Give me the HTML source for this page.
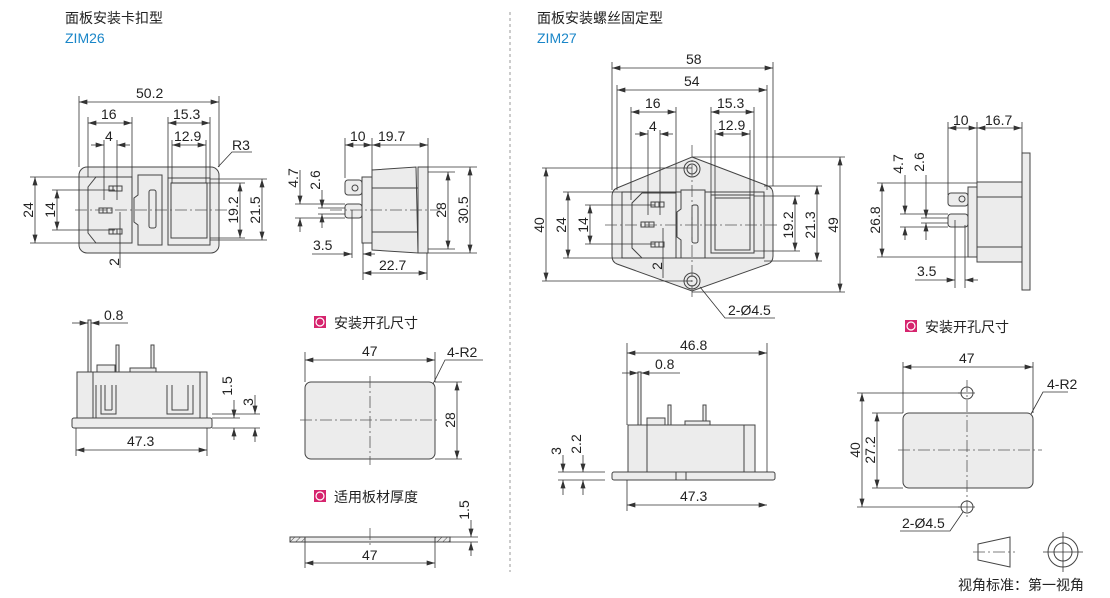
<!DOCTYPE html>
<html><head><meta charset="utf-8"><style>
html,body{margin:0;padding:0;background:#fff;width:1110px;height:598px;overflow:hidden}
svg{display:block}
text{font-family:"Liberation Sans","Noto Sans CJK SC",sans-serif;font-size:14px;fill:#222}
.b{fill:#1a86c8}
.d{stroke:#333;stroke-width:0.8;fill:none}
.da{stroke:#333;stroke-width:0.8;fill:none;marker-start:url(#a);marker-end:url(#a)}
.s{stroke:#444;stroke-width:1;fill:#ececec}
.sn{stroke:#444;stroke-width:1;fill:none}
.c{stroke:#555;stroke-width:0.8;stroke-dasharray:12 3 2 3;fill:none}
</style></head><body>
<svg width="1110" height="598" viewBox="0 0 1110 598">
<defs>
<marker id="a" viewBox="0 0 10 6" refX="10" refY="3" markerWidth="9" markerHeight="5" orient="auto-start-reverse" markerUnits="userSpaceOnUse"><path d="M0,0L10,3L0,6z" fill="#333"/></marker>
<pattern id="h" width="4" height="4" patternUnits="userSpaceOnUse" patternTransform="rotate(45)"><line x1="0" y1="0" x2="0" y2="4" stroke="#444" stroke-width="1"/></pattern>
</defs>

<text x="65" y="23">面板安装卡扣型</text>
<text x="65" y="43" class="b">ZIM26</text>
<text x="537" y="23">面板安装螺丝固定型</text>
<text x="537" y="43" class="b">ZIM27</text>
<line x1="510" y1="12" x2="510" y2="572" stroke="#999" stroke-dasharray="3 3"/>

<!-- ZIM26 front -->
<rect x="79" y="167" width="140" height="86" rx="8" class="s"/>
<path d="M96,177 L132,177 L132,243 L96,243 L88,233 L88,187 Z" class="sn"/>
<g class="sn"><rect x="109" y="186" width="13" height="5"/><rect x="99" y="208" width="13" height="5"/><rect x="109" y="229" width="13" height="5"/>
<path d="M113,186v5M117,186v5M103,208v5M107,208v5M113,229v5M117,229v5"/></g>
<path d="M138,175 L162,175 L162,245 L138,245 L138,225 L134,222 L134,198 L138,195 Z" class="s"/>
<rect x="149" y="190" width="7" height="38" rx="2" class="sn"/>
<rect x="168" y="178" width="42" height="67" class="sn"/><rect x="171" y="183" width="36" height="55" class="sn"/>
<line x1="75" y1="210" x2="228" y2="210" class="c"/>
<line x1="79" y1="96" x2="79" y2="167" class="d"/><line x1="219" y1="96" x2="219" y2="167" class="d"/>
<line x1="79" y1="102" x2="219" y2="102" class="da"/><text x="136" y="98">50.2</text>
<line x1="88" y1="117" x2="88" y2="177" class="d"/><line x1="132" y1="117" x2="132" y2="177" class="d"/>
<line x1="88" y1="123" x2="132" y2="123" class="da"/><text x="101" y="119">16</text>
<line x1="104" y1="140" x2="104" y2="200" class="d"/><line x1="117" y1="140" x2="117" y2="200" class="d"/>
<line x1="91" y1="145" x2="104" y2="145" class="d" style="marker-end:url(#a)"/><line x1="130" y1="145" x2="117" y2="145" class="d" style="marker-end:url(#a)"/><text x="105" y="141">4</text>
<line x1="168" y1="117" x2="168" y2="178" class="d"/><line x1="210" y1="117" x2="210" y2="178" class="d"/>
<line x1="168" y1="123" x2="210" y2="123" class="da"/><text x="173" y="119">15.3</text>
<line x1="172" y1="140" x2="172" y2="183" class="d"/><line x1="206" y1="140" x2="206" y2="183" class="d"/>
<line x1="172" y1="145" x2="206" y2="145" class="da"/><text x="174" y="141">12.9</text>
<path d="M218,167 L232,152 L252,152" class="d"/><text x="232" y="150">R3</text>
<line x1="30" y1="177" x2="96" y2="177" class="d"/><line x1="30" y1="243" x2="96" y2="243" class="d"/>
<line x1="35" y1="177" x2="35" y2="243" class="da"/><text transform="translate(33,210) rotate(-90)" text-anchor="middle">24</text>
<line x1="52" y1="190" x2="115" y2="190" class="d"/><line x1="52" y1="230" x2="115" y2="230" class="d"/>
<line x1="57" y1="190" x2="57" y2="230" class="da"/><text transform="translate(55,210) rotate(-90)" text-anchor="middle">14</text>
<line x1="171" y1="183" x2="245" y2="183" class="d"/><line x1="210" y1="238" x2="245" y2="238" class="d"/>
<line x1="240" y1="183" x2="240" y2="238" class="da"/><text transform="translate(238,210) rotate(-90)" text-anchor="middle">19.2</text>
<line x1="210" y1="179" x2="267" y2="179" class="d"/><line x1="210" y1="240" x2="267" y2="240" class="d"/>
<line x1="262" y1="179" x2="262" y2="240" class="da"/><text transform="translate(260,210) rotate(-90)" text-anchor="middle">21.5</text>
<line x1="120" y1="212" x2="120" y2="268" class="d"/><text transform="translate(119,262) rotate(-90)" text-anchor="middle">2</text>

<!-- ZIM26 side -->
<path d="M372,170 L416,167 L418,253 L372,250 Z" class="s"/>
<rect x="418" y="167" width="10" height="86" class="s"/>
<line x1="372" y1="188" x2="418" y2="188" class="sn"/><line x1="372" y1="232" x2="418" y2="232" class="sn"/>
<rect x="362" y="177" width="10" height="66" class="s"/>
<rect x="345" y="180" width="17" height="15" rx="3" class="s"/><rect x="345" y="204" width="17" height="14" rx="3" class="s"/>
<circle cx="355" cy="188" r="3" class="sn"/>
<line x1="330" y1="210" x2="440" y2="210" class="c"/>
<line x1="345" y1="138" x2="345" y2="178" class="d"/><line x1="372" y1="138" x2="372" y2="170" class="d"/><line x1="428" y1="138" x2="428" y2="167" class="d"/>
<line x1="345" y1="145" x2="372" y2="145" class="da"/><text x="350" y="141">10</text>
<line x1="372" y1="145" x2="428" y2="145" class="da"/><text x="378" y="141">19.7</text>
<line x1="295" y1="204" x2="345" y2="204" class="d"/><line x1="295" y1="218" x2="345" y2="218" class="d"/><line x1="318" y1="208" x2="345" y2="208" class="d"/><line x1="318" y1="214" x2="345" y2="214" class="d"/>
<line x1="300" y1="170" x2="300" y2="204" class="d" style="marker-end:url(#a)"/><line x1="300" y1="232" x2="300" y2="218" class="d" style="marker-end:url(#a)"/>
<text transform="translate(298,178) rotate(-90)" text-anchor="middle">4.7</text>
<line x1="322" y1="190" x2="322" y2="208" class="d" style="marker-end:url(#a)"/><line x1="322" y1="228" x2="322" y2="214" class="d" style="marker-end:url(#a)"/>
<text transform="translate(320,180) rotate(-90)" text-anchor="middle">2.6</text>
<line x1="428" y1="172" x2="455" y2="172" class="d"/><line x1="428" y1="249" x2="455" y2="249" class="d"/>
<line x1="448" y1="172" x2="448" y2="249" class="da"/><text transform="translate(446,210) rotate(-90)" text-anchor="middle">28</text>
<line x1="428" y1="167" x2="477" y2="167" class="d"/><line x1="428" y1="253" x2="477" y2="253" class="d"/>
<line x1="470" y1="167" x2="470" y2="253" class="da"/><text transform="translate(468,210) rotate(-90)" text-anchor="middle">30.5</text>
<line x1="352" y1="210" x2="352" y2="258" class="d"/><line x1="363" y1="243" x2="363" y2="280" class="d"/><line x1="427" y1="253" x2="427" y2="280" class="d"/>
<line x1="312" y1="254" x2="352" y2="254" class="d" style="marker-end:url(#a)"/><line x1="375" y1="254" x2="363" y2="254" class="d" style="marker-end:url(#a)"/><text x="313" y="250">3.5</text>
<line x1="363" y1="273" x2="427" y2="273" class="da"/><text x="379" y="270">22.7</text>

<!-- ZIM26 bottom -->
<rect x="77" y="372" width="130" height="46" class="s"/>
<rect x="72" y="418" width="140" height="10" rx="2" class="s"/>
<line x1="93" y1="372" x2="93" y2="418" class="sn"/><line x1="200" y1="372" x2="200" y2="418" class="sn"/>
<path d="M96,385 L96,418 M101,385 L101,414 L116,414 L116,385 M112,385 L112,410 M105,385 L105,410 L112,410" class="sn"/>
<path d="M167,385 L167,414 L193,414 L193,385 M172,385 L172,410 L188,410 L188,385" class="sn"/>
<rect x="88" y="320" width="3" height="52" class="s"/>
<rect x="116" y="345" width="3" height="27" class="s"/><rect x="151" y="345" width="3" height="27" class="s"/>
<rect x="97" y="365" width="18" height="7" class="s"/><rect x="130" y="368" width="26" height="4" class="s"/>
<line x1="72" y1="323" x2="88" y2="323" class="d" style="marker-end:url(#a)"/><line x1="128" y1="323" x2="91" y2="323" class="d" style="marker-end:url(#a)"/><text x="104" y="320">0.8</text>
<line x1="212" y1="418" x2="240" y2="418" class="d"/><line x1="212" y1="428" x2="260" y2="428" class="d"/><line x1="212" y1="414" x2="260" y2="414" class="d"/>
<line x1="234" y1="400" x2="234" y2="418" class="d" style="marker-end:url(#a)"/><line x1="234" y1="440" x2="234" y2="428" class="d" style="marker-end:url(#a)"/>
<text transform="translate(232,386) rotate(-90)" text-anchor="middle">1.5</text>
<line x1="255" y1="395" x2="255" y2="414" class="d" style="marker-end:url(#a)"/><line x1="255" y1="442" x2="255" y2="428" class="d" style="marker-end:url(#a)"/>
<text transform="translate(253,402) rotate(-90)" text-anchor="middle">3</text>
<line x1="76" y1="428" x2="76" y2="456" class="d"/><line x1="207" y1="428" x2="207" y2="456" class="d"/>
<line x1="76" y1="450" x2="207" y2="450" class="da"/><text x="127" y="446">47.3</text>

<!-- ZIM26 cutout -->
<rect x="314" y="316" width="12" height="12" fill="#d6246e"/><circle cx="320" cy="322" r="4" fill="none" stroke="#fff" stroke-width="1.2"/>
<text x="334" y="328">安装开孔尺寸</text>
<line x1="305" y1="352" x2="305" y2="382" class="d"/><line x1="435" y1="352" x2="435" y2="382" class="d"/>
<line x1="305" y1="360" x2="435" y2="360" class="da"/><text x="362" y="356">47</text>
<rect x="305" y="382" width="130" height="77" rx="6" class="s"/>
<line x1="370" y1="376" x2="370" y2="465" class="c"/><line x1="300" y1="420" x2="440" y2="420" class="c"/>
<path d="M433,384 L445,360 L483,360" class="d"/><text x="447" y="357">4-R2</text>
<line x1="435" y1="382" x2="462" y2="382" class="d"/><line x1="435" y1="459" x2="462" y2="459" class="d"/>
<line x1="457" y1="382" x2="457" y2="459" class="da"/><text transform="translate(455,420) rotate(-90)" text-anchor="middle">28</text>
<rect x="314" y="490" width="12" height="12" fill="#d6246e"/><circle cx="320" cy="496" r="4" fill="none" stroke="#fff" stroke-width="1.2"/>
<text x="334" y="502">适用板材厚度</text>
<rect x="290" y="537" width="160" height="5" class="s"/>
<rect x="290" y="537" width="15" height="5" fill="url(#h)" stroke="#444"/><rect x="435" y="537" width="15" height="5" fill="url(#h)" stroke="#444"/>
<line x1="370" y1="528" x2="370" y2="548" class="c"/>
<line x1="450" y1="537" x2="478" y2="537" class="d"/><line x1="450" y1="542" x2="478" y2="542" class="d"/>
<line x1="471" y1="520" x2="471" y2="537" class="d" style="marker-end:url(#a)"/><line x1="471" y1="556" x2="471" y2="542" class="d" style="marker-end:url(#a)"/>
<text transform="translate(469,510) rotate(-90)" text-anchor="middle">1.5</text>
<line x1="305" y1="542" x2="305" y2="568" class="d"/><line x1="435" y1="542" x2="435" y2="568" class="d"/>
<line x1="305" y1="563" x2="435" y2="563" class="da"/><text x="362" y="560">47</text>

<!-- ZIM27 front -->
<path d="M692,157 L768,186 Q773,188 773,194 L773,256 Q773,262 768,264 L692,291 L617,264 Q612,262 612,256 L612,196 Q612,190 617,188 Z" class="s"/>
<path d="M622,192 L764,192 L764,258 L622,258 Z" class="sn" stroke-width="0.6"/>
<circle cx="692" cy="169" r="8" class="sn"/><circle cx="692" cy="169" r="5" class="sn"/>
<circle cx="692" cy="281" r="8" class="sn"/><circle cx="692" cy="281" r="5" class="sn"/>
<path d="M642,193 L676,193 L676,258 L642,258 L632,248 L632,203 Z" class="sn"/>
<g class="sn"><rect x="651" y="202" width="13" height="5"/><rect x="641" y="222" width="13" height="5"/><rect x="651" y="242" width="13" height="5"/>
<path d="M655,202v5M659,202v5M645,222v5M649,222v5M655,242v5M659,242v5"/></g>
<path d="M681,190 L705,190 L705,258 L681,258 L681,240 L677,237 L677,212 L681,209 Z" class="s"/>
<rect x="692" y="205" width="6" height="38" rx="2" class="sn"/>
<rect x="711" y="195" width="43" height="58" class="sn"/><rect x="715" y="198" width="35" height="52" class="sn"/>
<line x1="605" y1="225" x2="780" y2="225" class="c"/><line x1="692" y1="145" x2="692" y2="300" class="c"/>
<line x1="612" y1="62" x2="612" y2="190" class="d"/><line x1="773" y1="62" x2="773" y2="186" class="d"/>
<line x1="612" y1="68" x2="773" y2="68" class="da"/><text x="686" y="64">58</text>
<line x1="617" y1="85" x2="617" y2="190" class="d"/><line x1="767" y1="85" x2="767" y2="190" class="d"/>
<line x1="617" y1="90" x2="767" y2="90" class="da"/><text x="684" y="86">54</text>
<line x1="631" y1="107" x2="631" y2="200" class="d"/><line x1="676" y1="107" x2="676" y2="193" class="d"/>
<line x1="631" y1="112" x2="676" y2="112" class="da"/><text x="645" y="108">16</text>
<line x1="648" y1="130" x2="648" y2="215" class="d"/><line x1="660" y1="130" x2="660" y2="215" class="d"/>
<line x1="635" y1="134" x2="648" y2="134" class="d" style="marker-end:url(#a)"/><line x1="673" y1="134" x2="660" y2="134" class="d" style="marker-end:url(#a)"/><text x="649" y="131">4</text>
<line x1="711" y1="107" x2="711" y2="195" class="d"/><line x1="754" y1="107" x2="754" y2="195" class="d"/>
<line x1="711" y1="112" x2="754" y2="112" class="da"/><text x="717" y="108">15.3</text>
<line x1="715" y1="130" x2="715" y2="198" class="d"/><line x1="750" y1="130" x2="750" y2="198" class="d"/>
<line x1="715" y1="134" x2="750" y2="134" class="da"/><text x="718" y="130">12.9</text>
<line x1="542" y1="168" x2="692" y2="168" class="d"/><line x1="542" y1="281" x2="692" y2="281" class="d"/>
<line x1="546" y1="168" x2="546" y2="281" class="da"/><text transform="translate(544,225) rotate(-90)" text-anchor="middle">40</text>
<line x1="563" y1="192" x2="640" y2="192" class="d"/><line x1="563" y1="258" x2="640" y2="258" class="d"/>
<line x1="568" y1="192" x2="568" y2="258" class="da"/><text transform="translate(566,225) rotate(-90)" text-anchor="middle">24</text>
<line x1="585" y1="205" x2="655" y2="205" class="d"/><line x1="585" y1="244" x2="655" y2="244" class="d"/>
<line x1="590" y1="205" x2="590" y2="244" class="da"/><text transform="translate(588,225) rotate(-90)" text-anchor="middle">14</text>
<line x1="754" y1="196" x2="800" y2="196" class="d"/><line x1="754" y1="251" x2="800" y2="251" class="d"/>
<line x1="795" y1="196" x2="795" y2="251" class="da"/><text transform="translate(793,225) rotate(-90)" text-anchor="middle">19.2</text>
<line x1="764" y1="186" x2="822" y2="186" class="d"/><line x1="764" y1="261" x2="822" y2="261" class="d"/>
<line x1="817" y1="186" x2="817" y2="261" class="da"/><text transform="translate(815,225) rotate(-90)" text-anchor="middle">21.3</text>
<line x1="692" y1="157" x2="845" y2="157" class="d"/><line x1="692" y1="292" x2="845" y2="292" class="d"/>
<line x1="840" y1="157" x2="840" y2="292" class="da"/><text transform="translate(838,225) rotate(-90)" text-anchor="middle">49</text>
<line x1="663" y1="228" x2="663" y2="278" class="d"/><text transform="translate(662,266) rotate(-90)" text-anchor="middle">2</text>
<path d="M700,287 L725,318 L775,318" class="d"/><text x="728" y="315">2-Ø4.5</text>

<!-- ZIM27 side -->
<rect x="1022" y="153" width="8" height="137" class="s"/>
<rect x="977" y="182" width="45" height="80" class="s"/>
<line x1="977" y1="197" x2="1022" y2="197" class="sn"/><line x1="977" y1="247" x2="1022" y2="247" class="sn"/>
<rect x="968" y="187" width="9" height="70" class="s"/>
<rect x="948" y="193" width="20" height="13" rx="3" class="s"/><rect x="948" y="214" width="20" height="13" rx="3" class="s"/>
<circle cx="962" cy="199" r="3" class="sn"/>
<line x1="948" y1="122" x2="948" y2="195" class="d"/><line x1="977" y1="122" x2="977" y2="182" class="d"/><line x1="1022" y1="122" x2="1022" y2="153" class="d"/>
<line x1="948" y1="128" x2="977" y2="128" class="da"/><text x="953" y="125">10</text>
<line x1="977" y1="128" x2="1022" y2="128" class="da"/><text x="985" y="125">16.7</text>
<line x1="900" y1="214" x2="948" y2="214" class="d"/><line x1="900" y1="227" x2="948" y2="227" class="d"/><line x1="921" y1="218" x2="948" y2="218" class="d"/><line x1="921" y1="223" x2="948" y2="223" class="d"/>
<line x1="905" y1="175" x2="905" y2="214" class="d" style="marker-end:url(#a)"/><line x1="905" y1="240" x2="905" y2="227" class="d" style="marker-end:url(#a)"/>
<text transform="translate(903,164) rotate(-90)" text-anchor="middle">4.7</text>
<line x1="926" y1="175" x2="926" y2="218" class="d" style="marker-end:url(#a)"/><line x1="926" y1="240" x2="926" y2="223" class="d" style="marker-end:url(#a)"/>
<text transform="translate(924,162) rotate(-90)" text-anchor="middle">2.6</text>
<line x1="877" y1="183" x2="977" y2="183" class="d"/><line x1="877" y1="257" x2="968" y2="257" class="d"/>
<line x1="882" y1="183" x2="882" y2="257" class="da"/><text transform="translate(880,220) rotate(-90)" text-anchor="middle">26.8</text>
<line x1="955" y1="220" x2="955" y2="288" class="d"/><line x1="965" y1="225" x2="965" y2="288" class="d"/>
<line x1="915" y1="280" x2="955" y2="280" class="d" style="marker-end:url(#a)"/><line x1="978" y1="280" x2="965" y2="280" class="d" style="marker-end:url(#a)"/><text x="917" y="276">3.5</text>

<!-- ZIM27 bottom -->
<rect x="628" y="425" width="127" height="47" class="s"/>
<line x1="647" y1="425" x2="647" y2="472" class="sn"/><line x1="744" y1="425" x2="744" y2="472" class="sn"/>
<rect x="612" y="472" width="163" height="8" rx="2" class="s"/>
<line x1="676" y1="472" x2="676" y2="480" class="sn"/><line x1="686" y1="472" x2="686" y2="480" class="sn"/>
<rect x="638" y="372" width="3" height="53" class="s"/>
<rect x="668" y="405" width="3" height="20" class="s"/><rect x="703" y="405" width="3" height="20" class="s"/>
<rect x="647" y="418" width="18" height="7" class="s"/><rect x="685" y="421" width="25" height="4" class="s"/>
<line x1="627" y1="343" x2="627" y2="425" class="d"/><line x1="767" y1="343" x2="767" y2="472" class="d"/>
<line x1="627" y1="353" x2="767" y2="353" class="da"/><text x="680" y="350">46.8</text>
<line x1="622" y1="373" x2="638" y2="373" class="d" style="marker-end:url(#a)"/><line x1="680" y1="373" x2="641" y2="373" class="d" style="marker-end:url(#a)"/><text x="655" y="369">0.8</text>
<line x1="558" y1="472" x2="605" y2="472" class="d"/><line x1="558" y1="480" x2="605" y2="480" class="d"/>
<line x1="563" y1="455" x2="563" y2="472" class="d" style="marker-end:url(#a)"/><line x1="563" y1="495" x2="563" y2="480" class="d" style="marker-end:url(#a)"/>
<text transform="translate(561,451) rotate(-90)" text-anchor="middle">3</text>
<line x1="583" y1="455" x2="583" y2="472" class="d" style="marker-end:url(#a)"/><line x1="583" y1="495" x2="583" y2="480" class="d" style="marker-end:url(#a)"/>
<text transform="translate(581,444) rotate(-90)" text-anchor="middle">2.2</text>
<line x1="627" y1="480" x2="627" y2="511" class="d"/>
<line x1="627" y1="505" x2="767" y2="505" class="da"/><text x="680" y="501">47.3</text>

<!-- ZIM27 cutout -->
<rect x="905" y="320" width="12" height="12" fill="#d6246e"/><circle cx="911" cy="326" r="4" fill="none" stroke="#fff" stroke-width="1.2"/>
<text x="925" y="332">安装开孔尺寸</text>
<line x1="903" y1="362" x2="903" y2="413" class="d"/><line x1="1033" y1="362" x2="1033" y2="413" class="d"/>
<line x1="903" y1="367" x2="1033" y2="367" class="da"/><text x="959" y="363">47</text>
<rect x="903" y="413" width="130" height="75" rx="6" class="s"/>
<circle cx="967" cy="393" r="6" class="sn"/><circle cx="967" cy="507" r="6" class="sn"/>
<line x1="967" y1="380" x2="967" y2="520" class="c"/><line x1="898" y1="450" x2="1042" y2="450" class="c"/>
<line x1="958" y1="393" x2="975" y2="393" class="d"/><line x1="958" y1="507" x2="975" y2="507" class="d"/>
<path d="M1031,414 L1043,392 L1068,392" class="d"/><text x="1047" y="389">4-R2</text>
<line x1="857" y1="393" x2="960" y2="393" class="d"/><line x1="857" y1="507" x2="960" y2="507" class="d"/>
<line x1="862" y1="393" x2="862" y2="507" class="da"/><text transform="translate(860,450) rotate(-90)" text-anchor="middle">40</text>
<line x1="872" y1="413" x2="903" y2="413" class="d"/><line x1="872" y1="488" x2="903" y2="488" class="d"/>
<line x1="877" y1="413" x2="877" y2="488" class="da"/><text transform="translate(875,450) rotate(-90)" text-anchor="middle">27.2</text>
<path d="M963,512 L950,531 L900,531" class="d"/><text x="902" y="528">2-Ø4.5</text>

<path d="M978,544 L1010,537 L1010,567 L978,560 Z" class="sn" fill="#fff"/>
<line x1="973" y1="552" x2="1015" y2="552" class="c"/>
<circle cx="1063" cy="552" r="15" class="sn"/><circle cx="1063" cy="552" r="9" class="sn"/>
<line x1="1043" y1="552" x2="1083" y2="552" class="d"/><line x1="1063" y1="532" x2="1063" y2="572" class="d"/>
<text x="958" y="590">视角标准：第一视角</text>
</svg>
</body></html>
